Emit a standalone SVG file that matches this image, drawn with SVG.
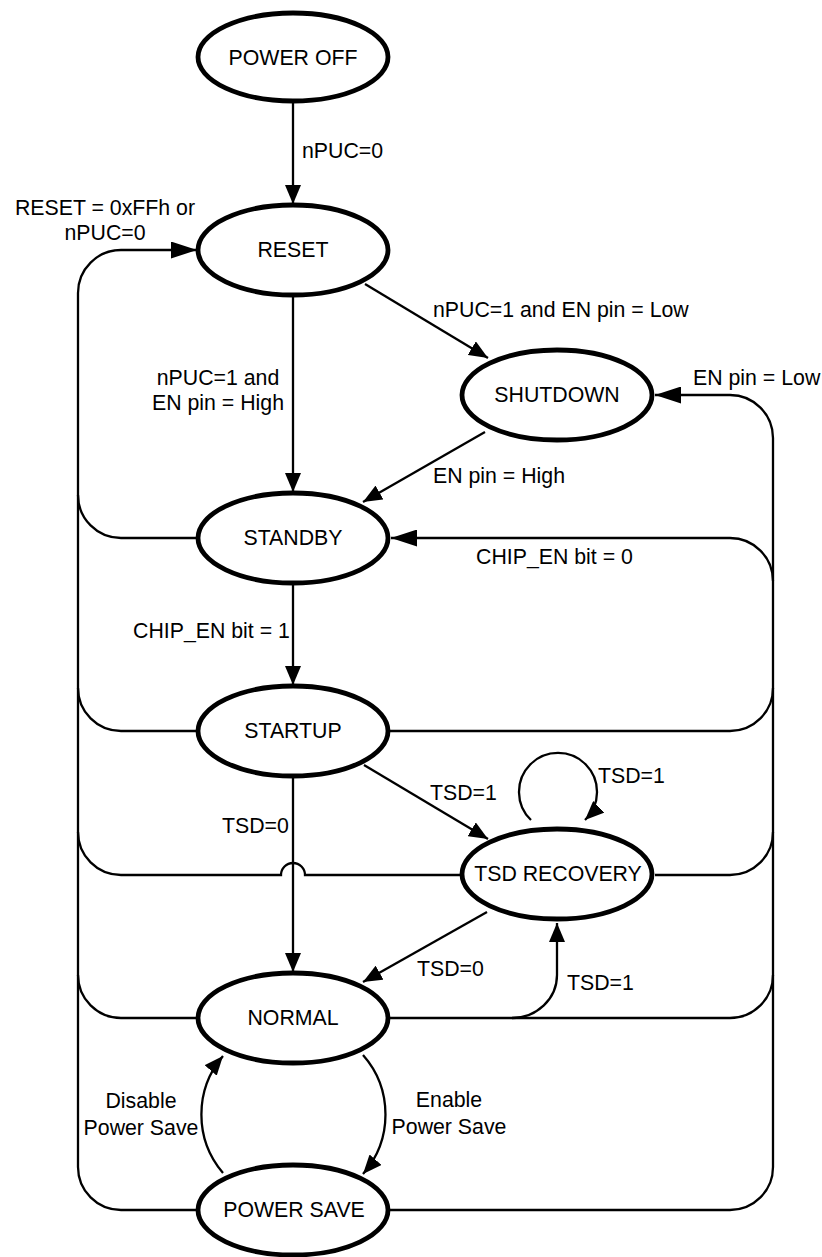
<svg xmlns="http://www.w3.org/2000/svg" width="822" height="1257" viewBox="0 0 822 1257">
<style>
.node ellipse{fill:#fff;stroke:#000;stroke-width:4.8}
.node text,.lbl{font-family:"Liberation Sans",Arial,sans-serif;font-size:21.3px;fill:#000}
.node text{text-anchor:middle}
.c{fill:none;stroke:#000;stroke-width:2.3}
.a{marker-end:url(#arr)}
.h{marker-end:url(#arrh)}
.m{text-anchor:middle}
</style>
<defs>
<marker id="arr" markerUnits="userSpaceOnUse" viewBox="0 0 19 16" refX="19" refY="8" markerWidth="19" markerHeight="16" orient="auto">
<path d="M0,0 L19,8 L0,16 Z" fill="#000"/>
</marker>
<marker id="arrh" markerUnits="userSpaceOnUse" viewBox="0 0 26 17" refX="26" refY="8.5" markerWidth="26" markerHeight="17" orient="auto">
<path d="M0,0 L26,8.5 L0,17 Z" fill="#000"/>
</marker>
</defs>
<rect width="822" height="1257" fill="#fff"/>
<g id="connectors">
<path class="c a" d="M293,103 L293,204"/>
<path class="c a" d="M293,297 L293,492"/>
<path class="c a" d="M293,585 L293,685"/>
<path class="c a" d="M293,778 L293,972"/>
<path class="c a" d="M365,284 L488,358"/>
<path class="c a" d="M485,432 L363,502"/>
<path class="c a" d="M364,765 L488,839"/>
<path class="c a" d="M487,912 L363,982"/>
<path class="c a" d="M531,820 A39,39 0 1 1 585,820"/>
<path class="c a" d="M363,1055 A90,90 0 0 1 363,1174"/>
<path class="c a" d="M223,1173 A90,90 0 0 1 223,1056"/>
<path class="c a" d="M512,1018 A45,43 0 0 0 557,975 L557,923"/>
<path class="c h" d="M78,1167 L78,293 A43,43 0 0 1 121,250 L197,250"/>
<path class="c" d="M196,538 L121,538 A43,43 0 0 1 78,495"/>
<path class="c" d="M196,731 L121,731 A43,43 0 0 1 78,688"/>
<path class="c" d="M460,875 L305,875 A12,12 0 0 0 281,875 L121,875 A43,43 0 0 1 78,832"/>
<path class="c" d="M196,1018 L121,1018 A43,43 0 0 1 78,975"/>
<path class="c" d="M196,1210 L121,1210 A43,43 0 0 1 78,1167"/>
<path class="c" d="M773,1167 L773,438"/>
<path class="c h" d="M773,438 A43,43 0 0 0 730,395 L655,395"/>
<path class="c h" d="M773,581 A43,43 0 0 0 730,538 L391,538"/>
<path class="c" d="M390,731 L730,731 A43,43 0 0 0 773,688"/>
<path class="c" d="M655,875 L730,875 A43,43 0 0 0 773,832"/>
<path class="c" d="M390,1018 L730,1018 A43,43 0 0 0 773,975"/>
<path class="c" d="M390,1210 L730,1210 A43,43 0 0 0 773,1167"/>
</g>
<g id="labels">
<text class="lbl" x="302" y="158">nPUC=0</text>
<text class="lbl m" x="105" y="215">RESET = 0xFFh or</text>
<text class="lbl m" x="105" y="240">nPUC=0</text>
<text class="lbl" x="433" y="317">nPUC=1 and EN pin = Low</text>
<text class="lbl" x="693" y="385">EN pin = Low</text>
<text class="lbl m" x="218" y="385">nPUC=1 and</text>
<text class="lbl m" x="218" y="410">EN pin = High</text>
<text class="lbl" x="433" y="483">EN pin = High</text>
<text class="lbl" x="476" y="564">CHIP_EN bit = 0</text>
<text class="lbl" x="133" y="638">CHIP_EN bit = 1</text>
<text class="lbl" x="430" y="800">TSD=1</text>
<text class="lbl" x="598" y="783">TSD=1</text>
<text class="lbl" x="222" y="833">TSD=0</text>
<text class="lbl" x="417" y="976">TSD=0</text>
<text class="lbl" x="567" y="990">TSD=1</text>
<text class="lbl m" x="141" y="1108">Disable</text>
<text class="lbl m" x="141" y="1135">Power Save</text>
<text class="lbl m" x="449" y="1107">Enable</text>
<text class="lbl m" x="449" y="1134">Power Save</text>
</g>
<g id="power-off" class="node"><ellipse cx="293" cy="57" rx="95" ry="44"/><text x="293" y="65">POWER OFF</text></g>
<g id="reset" class="node"><ellipse cx="293" cy="250" rx="95" ry="45"/><text x="293" y="257">RESET</text></g>
<g id="shutdown" class="node"><ellipse cx="557" cy="395" rx="95" ry="45"/><text x="557" y="402">SHUTDOWN</text></g>
<g id="standby" class="node"><ellipse cx="293" cy="538" rx="95" ry="45"/><text x="293" y="545">STANDBY</text></g>
<g id="startup" class="node"><ellipse cx="293" cy="731" rx="95" ry="45"/><text x="293" y="738">STARTUP</text></g>
<g id="tsd-recovery" class="node"><ellipse cx="557" cy="874" rx="95" ry="45"/><text x="558" y="881">TSD RECOVERY</text></g>
<g id="normal" class="node"><ellipse cx="293" cy="1018" rx="95" ry="45"/><text x="293" y="1025">NORMAL</text></g>
<g id="power-save" class="node"><ellipse cx="293" cy="1210" rx="95" ry="45"/><text x="294" y="1217">POWER SAVE</text></g>
</svg>
